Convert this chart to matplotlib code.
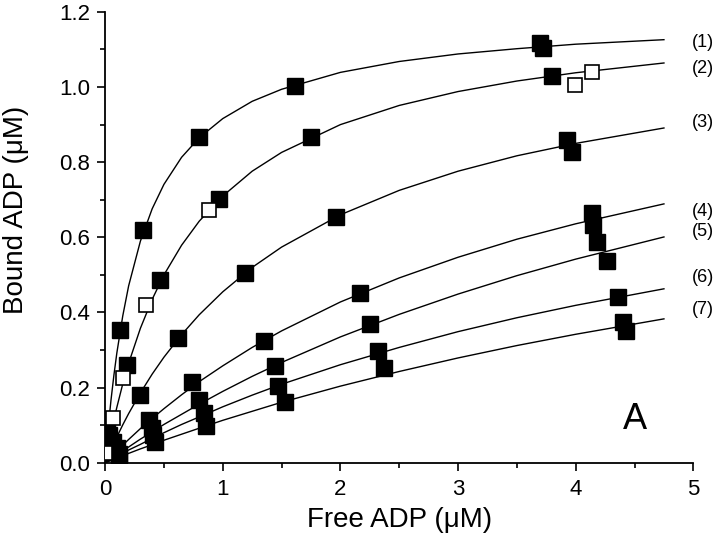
import matplotlib
matplotlib.use("Agg")
import matplotlib.pyplot as plt
from matplotlib.ticker import MultipleLocator

plt.rcParams["font.family"] = ["Liberation Sans", "DejaVu Sans"]

curve_x = [0, 0.025, 0.05, 0.075, 0.1, 0.15, 0.2, 0.3, 0.4, 0.5, 0.65, 0.8,
           1.0, 1.25, 1.5, 2.0, 2.5, 3.0, 3.5, 4.0, 4.75]
curve_1 = [0, 0.090, 0.167, 0.234, 0.293, 0.391, 0.471, 0.590, 0.676, 0.741,
           0.813, 0.865, 0.916, 0.962, 0.994, 1.039, 1.068, 1.088, 1.102,
           1.114, 1.126]
curve_2 = [0, 0.041, 0.079, 0.115, 0.148, 0.210, 0.265, 0.358, 0.435, 0.500,
           0.579, 0.643, 0.710, 0.776, 0.826, 0.900, 0.951, 0.988, 1.016,
           1.038, 1.064]
curve_3 = [0, 0.018, 0.036, 0.053, 0.069, 0.101, 0.131, 0.186, 0.236, 0.281,
           0.341, 0.394, 0.455, 0.520, 0.574, 0.660, 0.725, 0.776, 0.817,
           0.850, 0.891]
curve_4 = [0, 0.008, 0.016, 0.024, 0.032, 0.047, 0.062, 0.091, 0.118, 0.144,
           0.181, 0.216, 0.258, 0.307, 0.351, 0.428, 0.492, 0.547, 0.595,
           0.636, 0.689]
curve_5 = [0, 0.005, 0.011, 0.016, 0.022, 0.032, 0.042, 0.063, 0.082, 0.102,
           0.129, 0.156, 0.190, 0.230, 0.267, 0.335, 0.395, 0.449, 0.498,
           0.542, 0.601]
curve_6 = [0, 0.004, 0.009, 0.013, 0.017, 0.025, 0.034, 0.049, 0.065, 0.080,
           0.102, 0.122, 0.149, 0.180, 0.209, 0.261, 0.307, 0.349, 0.386,
           0.419, 0.463]
curve_7 = [0, 0.003, 0.006, 0.009, 0.012, 0.019, 0.025, 0.037, 0.048, 0.060,
           0.076, 0.092, 0.113, 0.137, 0.161, 0.204, 0.243, 0.279, 0.312,
           0.342, 0.383]
curves = [curve_1, curve_2, curve_3, curve_4, curve_5, curve_6, curve_7]

# measured points (filled squares)
filled_x = [0.02, 0.13, 0.32, 0.80, 1.61, 3.70, 3.72,
            0.03, 0.19, 0.47, 0.97, 1.75, 3.80,
            0.07, 0.30, 0.62, 1.19, 1.96, 3.93, 3.97,
            0.10, 0.37, 0.74, 1.35, 2.17, 4.14,
            0.12, 0.40, 0.80, 1.44, 2.25, 4.15, 4.18, 4.27,
            0.12, 0.41, 0.84, 1.47, 2.32, 4.36,
            0.42, 0.86, 1.53, 2.37, 4.40, 4.43]
filled_y = [0.093, 0.354, 0.62, 0.867, 1.003, 1.118, 1.104,
            0.075, 0.26, 0.487, 0.703, 0.868, 1.03,
            0.056, 0.18, 0.333, 0.505, 0.655, 0.86, 0.828,
            0.04, 0.114, 0.216, 0.325, 0.452, 0.665,
            0.024, 0.093, 0.168, 0.258, 0.37, 0.633, 0.588, 0.538,
            0.01, 0.075, 0.133, 0.205, 0.298, 0.44,
            0.056, 0.097, 0.163, 0.252, 0.375, 0.352]

# open squares
open_x = [0.0, 0.07, 0.15, 0.35, 0.88, 3.99, 4.14]
open_y = [0.027, 0.12, 0.226, 0.42, 0.672, 1.006, 1.04]

curve_labels = ["(1)", "(2)", "(3)", "(4)", "(5)", "(6)", "(7)"]
label_y = [1.118, 1.05, 0.905, 0.668, 0.615, 0.492, 0.407]

fig = plt.figure(figsize=(7.2, 5.4), dpi=100)
ax = fig.add_axes([0.146, 0.143, 0.817, 0.835])

for cy in curves:
    ax.plot(curve_x, cy, color="black", lw=1.0, zorder=2)

ax.plot(filled_x, filled_y, ls="none", marker="s", ms=11, mfc="black",
        mec="black", zorder=3)
ax.plot(open_x, open_y, ls="none", marker="s", ms=10, mfc="white",
        mec="black", mew=1.2, zorder=4)

for lab, ly in zip(curve_labels, label_y):
    ax.text(4.99, ly, lab, fontsize=13, va="center", ha="left")

ax.text(4.5, 0.114, "A", fontsize=26, ha="center", va="center")

ax.set_xlim(0, 5)
ax.set_ylim(0, 1.2)
ax.xaxis.set_major_locator(MultipleLocator(1))
ax.xaxis.set_minor_locator(MultipleLocator(0.5))
ax.yaxis.set_major_locator(MultipleLocator(0.2))
ax.yaxis.set_minor_locator(MultipleLocator(0.1))
ax.yaxis.set_major_formatter(plt.FormatStrFormatter("%.1f"))
ax.tick_params(which="major", direction="out", length=6, width=1.2,
               labelsize=16)
ax.tick_params(axis="y", which="major", pad=5)
ax.tick_params(axis="x", which="major", pad=6)
ax.tick_params(which="minor", direction="out", length=3.5, width=1.2)

for side in ["top", "right"]:
    ax.spines[side].set_visible(False)
for side in ["left", "bottom"]:
    ax.spines[side].set_linewidth(1.3)

ax.set_xlabel("Free ADP (\u03bcM)", fontsize=20, labelpad=5)
ax.set_ylabel("Bound ADP (\u03bcM)", fontsize=20)
ax.yaxis.set_label_coords(-0.13, 0.56)

fig.savefig("out.png", dpi=100)
